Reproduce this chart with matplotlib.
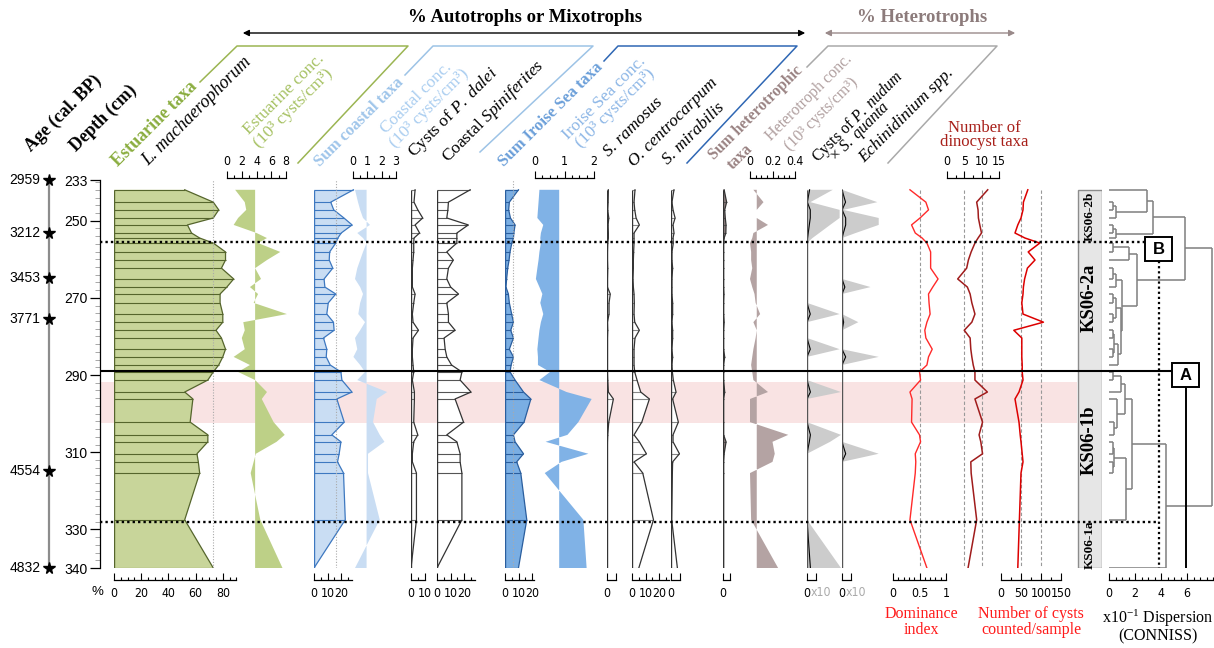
import matplotlib
matplotlib.use('Agg')
import matplotlib.pyplot as plt
from matplotlib import font_manager as fm
from matplotlib.patches import Rectangle
import numpy as np

# ---------------- DATA ----------------
depth = [242.0, 245.2, 247.2, 249.3, 251.1, 253.2, 254.5, 255.8, 258.1, 260.2, 262.3, 265.1,
         267.2, 269.0, 271.3, 274.2, 276.3, 278.4, 280.4, 283.3, 285.3, 287.4, 289.2, 291.3,
         294.4, 296.2, 302.2, 305.5, 307.3, 310.4, 312.5, 315.4, 327.5, 340.0]
l_machaerophorum = [52, 73, 77, 73, 54, 57, 63, 73, 82, 82, 79, 88, 83, 78, 78, 80, 80, 75, 79, 82,
                    80, 77, 73, 69, 52, 58, 56, 69, 69, 61, 62, 63, 52, 73]
estuarine_conc = [1.1, 2.4, 2.6, 1.5, 0.9, 4.0, 5.4, 4.2, 7.2, 5.4, 3.8, 4.6, 3.1, 4.2, 3.6, 8.1, 2.2,
                  2.4, 2.0, 2.4, 0.9, 3.1, 1.5, 3.8, 5.4, 4.7, 6.3, 7.8, 6.7, 3.9, 3.6, 3.2, 4.5, 7.5]
estuarine_mean = 3.8
coastal_sum = [29, 12.3, 14.5, 22, 28, 20, 17.5, 16, 11.5, 11.2, 13.8, 7.4, 8, 16, 10.5, 9.4, 14.3,
               14.8, 7, 9.4, 9, 11.9, 19.8, 20.5, 27.9, 16.8, 22.2, 13.1, 19.8, 18.5, 17.3, 21.7, 23, 0]
coastal_conc = [0.14, 0.35, 0.5, 0.7, 1.19, 0.3, 0.7, 0.95, 0.7, 0.5, 0.3, 0.14, 0.5, 0.7, 0.5, 0.37,
                0.84, 0.5, 0.14, 0.3, 0.03, 0.5, 0.84, 0.3, 2.39, 1.66, 1.4, 1.87, 2.2, 1.05, 1.05,
                1.05, 1.87, 0.14]
coastal_mean = 0.95
p_dalei = [3, 2.2, 5, 8.6, 3, 6.3, 2.2, 2, 2, 1.5, 1, 1, 1, 3, 2, 1, 1.5, 5.5, 1.5, 1, 1, 1.5, 2, 1,
           2.5, 2.5, 2, 5, 2, 1, 1, 4, 4, 0]
coastal_spiniferites = [24.4, 8.4, 8, 7.2, 23, 14.6, 14.6, 14.6, 7.2, 12, 8.4, 7.2, 10, 15.8, 7.2, 8.4,
                        8.4, 13.3, 5.2, 6, 7.2, 10.7, 18.3, 17, 25, 13.3, 19.5, 7.2, 14.6, 17, 17,
                        18.3, 18.3, 0]
iroise_sum = [9.9, 3.2, 2.7, 4, 7.4, 6.5, 6.2, 5, 3.7, 3, 2, 1.2, 0.7, 2.5, 3.2, 4.9, 6.2, 4.2, 6.2,
              3.2, 6.2, 4.5, 3.7, 7.4, 13.6, 19, 14, 6.2, 7.4, 13.6, 8.6, 11.6, 16, 9.9]
iroise_conc = [0.15, 0.12, 0.1, 0.08, 0.28, 0.2, 0.18, 0.2, 0.15, 0.12, 0.08, 0.03, 0.15, 0.25, 0.18,
               0.28, 0.2, 0.15, 0.12, 0.08, 0.1, 0.1, 0.51, 0.15, 1.07, 1.92, 1.47, 1.1, 0.36, 1.81,
               0.9, 0.33, 1.64, 1.75]
iroise_mean = 0.82
s_ramosus = [1.0, 0.8, 0.5, 1.3, 0.8, 1.0, 1.0, 0.5, 0.3, 0.3, 0.5, 0.3, 0.3, 2.4, 1.5, 1.5, 0.3, 0.5,
             0.3, 0.3, 0.3, 0.3, 0.3, 0.5, 1.0, 4.7, 1.3, 0.5, 0.3, 0.2, 0.2, 0.1, 0.0, 0.0]
o_centrocarpum = [2.2, 1.5, 2, 3, 5.4, 1.5, 1.5, 1.5, 1.2, 1, 1, 0.7, 1, 1.5, 1.7, 1.5, 2, 5.4, 2.2,
                  1.5, 1.5, 1.5, 2, 3.7, 6.4, 12.8, 7.2, 1.5, 5.4, 10.6, 1.5, 7.9, 15.8, 5]
s_mirabilis = [2.2, 0.7, 1.5, 3, 1.5, 2.2, 1.5, 1.7, 0.7, 0.7, 1.2, 0.7, 0.7, 0.7, 1.2, 1.2, 0.7, 1.2,
               1.2, 0.7, 1.2, 0.7, 1, 1.7, 3.7, 1.2, 5.4, 1.5, 1.5, 6.2, 1.2, 1, 0.5, 4.7]
hetero_sum = [1, 3.2, 1.5, 2, 2.7, 2.5, 1, 0.5, 0.5, 0.5, 0.5, 0.5, 0.5, 0.8, 0.5, 0.5, 1, 0.5, 0.5,
              0.5, 1.5, 0.5, 0.5, 0.5, 1.5, 0.5, 0.5, 0.5, 2.7, 1, 0.5, 0.5, 0.5, 0.5]
hetero_conc = [0.03, 0.12, 0.06, 0.06, 0.16, 0.03, 0.02, 0.0, 0.01, 0.01, 0.02, 0.0, 0.02, 0.04, 0.05,
               0.09, 0.03, 0.06, 0.05, 0.03, 0.02, 0.01, 0.02, 0.03, 0.16, 0.0, 0.0, 0.34, 0.2, 0.22,
               0.2, 0.0, 0.01, 0.25]
hetero_mean = 0.06
p_nudum_s_quanta = [1.9, 0.25, 2.4, 2.4, 1.7, 0.9, 0.4, 0, 0, 0, 0, 0, 0, 0, 0, 2.4, 0, 0, 0, 2.4, 0,
                    0, 0, 0, 2.5, 0, 0, 2.5, 1.7, 0, 0, 0, 0, 2.5]
echinidinium = [0, 2.6, 0.1, 2.7, 2.7, 1.0, 0, 0, 0, 0, 0, 0, 2.1, 0, 0, 0, 1.2, 0, 0, 0, 2.7, 0, 0, 0,
                0, 0, 0, 0, 0, 2.7, 0, 0, 0, 0]
dominance = [0.32, 0.62, 0.67, 0.51, 0.35, 0.42, 0.55, 0.64, 0.71, 0.71, 0.71, 0.85, 0.75, 0.67, 0.68,
             0.7, 0.64, 0.6, 0.62, 0.74, 0.67, 0.64, 0.5, 0.52, 0.32, 0.36, 0.35, 0.5, 0.52, 0.42,
             0.43, 0.42, 0.32, 0.64]
n_taxa = [11.8, 8.6, 9, 9.1, 9.5, 10, 9, 8.1, 7, 6.2, 5.7, 3.1, 5.9, 6.7, 7.2, 8.1, 7.2, 5, 6.7, 6.9,
          7.2, 7.6, 8.1, 8.1, 11.7, 8.1, 10.3, 9.3, 9.8, 10.3, 6.9, 7, 8.6, 6.1]
n_cysts = [67, 56, 55, 50, 42, 35, 60, 97, 68, 85, 66, 59, 56, 55, 52, 55, 106, 32, 52, 52, 52, 53, 53,
           55, 45, 35, 45, 48, 50, 53, 55, 50, 46, 42]
ages = [2959, 3212, 3453, 3771, 4554, 4832]
age_depths = [239.5, 253.2, 264.8, 275.4, 314.8, 340.0]
depth_ticks = [239.46, 250, 270, 290, 310, 330, 340]
depth_tick_labels = ['233', '250', '270', '290', '310', '330', '340']
zone_names = ['KS06-2b', 'KS06-2a', 'KS06-1b', 'KS06-1a']
zone_label_depths = [248.8, 270.0, 306.8, 334.0]
zone_dotted = [255.4, 328.0]
zone_solid = 288.9
pink_band = (291.8, 302.4)
# CONNISS tree: [height, left, right], leaves = sample index
tree = [7.9,
        [5.85,
         [3.4, [2.95, 0, [0.5, [0.3, 1, 2], 3]], [0.5, [0.3, 4, 5], 6]],
         [2.15, [1.5, [0.3, 7, 8], 9],
          [1.0, [0.5, [0.3, 10, 11], 12],
           [0.9, [0.5, [0.3, 13, 14], [0.3, 15, 16]],
            [0.7, [0.4, [0.3, 17, 18], [0.3, 19, 20]], 21]]]]],
        [4.4,
         [1.75, [1.2, [0.9, [0.3, 22, 23], 24], [0.6, 25, [0.4, 26, 27]]],
          [1.3, [0.4, [0.3, 28, 29], [0.3, 30, 31]], 32]],
         33]]

# ---------------- SETUP ----------------
names = {f.name for f in fm.fontManager.ttflist}
SERIF = 'Liberation Serif' if 'Liberation Serif' in names else 'DejaVu Serif'
SANS = 'Liberation Sans' if 'Liberation Sans' in names else 'DejaVu Sans'
narrow_file = None
for f in fm.fontManager.ttflist:
    nm = f.name
    if (('Narrow' in nm or 'Condensed' in nm or str(f.stretch) in ('condensed', 'semi-condensed'))
            and f.style == 'normal' and f.weight in (400, 'normal', 'regular', 'book')):
        narrow_file = f.fname
        break
if narrow_file is not None:
    TICK_FP = fm.FontProperties(fname=narrow_file, size=8.8)
else:
    TICK_FP = fm.FontProperties(family=SANS, size=8.0)

plt.rcParams['mathtext.fontset'] = 'custom'
plt.rcParams['mathtext.rm'] = SERIF
plt.rcParams['mathtext.it'] = SERIF + ':italic'
plt.rcParams['mathtext.bf'] = SERIF + ':bold'

depth = np.asarray(depth)
W, H = 1214, 648
fig = plt.figure(figsize=(W / 100, H / 100), dpi=100)
Y_TOP, Y_BOT = 180, 568
D_TOP, D_BOT = 239.46, 340.0
PX = 1.36  # px per percent


def px2depth(y):
    return D_TOP + (y - Y_TOP) / (Y_BOT - Y_TOP) * (D_BOT - D_TOP)


def add_panel(x0, scale, xmax, z=2):
    ax = fig.add_axes([x0 / W, 1 - Y_BOT / H, xmax * scale / W, (Y_BOT - Y_TOP) / H], zorder=z)
    ax.set_xlim(0, xmax)
    ax.set_ylim(D_BOT, D_TOP)
    ax.patch.set_alpha(0)
    for s in ax.spines.values():
        s.set_visible(False)
    ax.set_xticks([])
    ax.set_yticks([])
    return ax


def bottom_axis(ax, bound, major, labels, minor=()):
    sp = ax.spines['bottom']
    sp.set_visible(True)
    sp.set_position(('outward', 8.6))
    sp.set_bounds(0, bound)
    sp.set_linewidth(0.9)
    ax.set_xticks(major)
    ax.set_xticklabels(labels, fontproperties=TICK_FP)
    ax.set_xticks(list(minor), minor=True)
    ax.tick_params(axis='x', which='major', direction='in', length=5, width=0.8, pad=5,
                   bottom=True, top=False)
    ax.tick_params(axis='x', which='minor', direction='in', length=2.5, width=0.8,
                   bottom=True, top=False)


def top_axis(ax, bound, major, labels, minor=()):
    sp = ax.spines['top']
    sp.set_visible(True)
    sp.set_position(('outward', 1.5))
    sp.set_bounds(0, bound)
    sp.set_linewidth(0.9)
    ax.set_xticks(major)
    ax.set_xticklabels(labels, fontproperties=TICK_FP)
    ax.set_xticks(list(minor), minor=True)
    ax.tick_params(axis='x', which='major', direction='out', length=5, width=0.8, pad=2,
                   top=True, bottom=False, labeltop=True, labelbottom=False)
    ax.tick_params(axis='x', which='minor', direction='out', length=2.5, width=0.8,
                   top=True, bottom=False)


def pct_panel(x0, vals, xmax, bound, fill, edge, hline, major, labels, minor=(), ref=None):
    ax = add_panel(x0, PX, xmax)
    v = np.asarray(vals, dtype=float)
    ax.fill_betweenx(depth, 0, v, facecolor=fill, edgecolor='none')
    ax.hlines(depth, 0, v, colors=hline, lw=0.8)
    ax.plot(v, depth, color=edge, lw=0.9)
    ax.vlines(0, depth.min(), depth.max(), colors=edge, lw=1.0)
    if ref is not None:
        ax.axvline(ref, color='#aaaaaa', lw=0.8, ls=(0, (1, 1.5)))
    bottom_axis(ax, bound, major, labels, minor)
    return ax


def conc_panel(x0, scale, vals, mean, xmax, bound, color, major, labels, minor):
    ax = add_panel(x0, scale, xmax)
    ax.fill_betweenx(depth, mean, np.asarray(vals, dtype=float), facecolor=color, edgecolor='none')
    top_axis(ax, bound, major, labels, minor)
    return ax


def exag_panel(x0, vals, xmax):
    ax = add_panel(x0, PX, xmax)
    v = np.asarray(vals, dtype=float)
    ax.fill_betweenx(depth, 0, v * 10, facecolor='#cccccc', edgecolor='none')
    ax.plot(v, depth, color='k', lw=0.8)
    ax.vlines(0, depth.min(), depth.max(), colors='#555555', lw=1.0)
    bottom_axis(ax, 6.5, [0, 6.5], ['0', ''])
    fig.text((x0 + 3.5) / W, 1 - 592 / H, 'x10', color='#aaaaaa', fontproperties=TICK_FP,
             ha='left', va='center')
    return ax


# background for pink band
ax_bg = fig.add_axes([0, 1 - Y_BOT / H, 1, (Y_BOT - Y_TOP) / H], zorder=0)
ax_bg.set_xlim(0, W)
ax_bg.set_ylim(D_BOT, D_TOP)
ax_bg.axis('off')
ax_bg.axhspan(pink_band[0], pink_band[1], xmin=100 / W, xmax=1077 / W, color='#f9e3e3', lw=0)

# ---------------- PANELS ----------------
pct_panel(114, l_machaerophorum, 90, 90, '#c8d59a', '#55652c', '#55652c',
          [0, 20, 40, 60, 80], ['0', '20', '40', '60', '80'], np.arange(0, 91, 5), ref=73)
conc_panel(227, 7.4, estuarine_conc, estuarine_mean, 8.6, 8, '#bdd087',
           [0, 2, 4, 6, 8], ['0', '2', '4', '6', '8'], np.arange(0, 9, 1))
pct_panel(314, coastal_sum, 30, 28, '#c9ddf3', '#3d78c0', '#3d78c0',
          [0, 10, 20], ['0', '10', '20'], [5, 15, 25], ref=16)
conc_panel(353, 14.3, coastal_conc, coastal_mean, 3.1, 3, '#c9ddf3',
           [0, 1, 2, 3], ['0', '1', '2', '3'], np.arange(0, 3.01, 0.5))
pct_panel(411, p_dalei, 12, 10, 'white', '#333333', '#777777', [0, 10], ['0', '10'], [5])
pct_panel(437, coastal_spiniferites, 30, 28, 'white', '#333333', '#555555',
          [0, 10, 20], ['0', '10', '20'], [5, 15, 25])
pct_panel(505, iroise_sum, 22, 21, '#7aaee3', '#2a5e9e', '#2a5e9e',
          [0, 10, 20], ['0', '10', '20'], [5, 15], ref=6)
conc_panel(535, 29.5, iroise_conc, iroise_mean, 2.1, 2, '#80b2e6',
           [0, 1, 2], ['0', '1', '2'], np.arange(0, 2.01, 0.25))
pct_panel(607, s_ramosus, 7, 6.5, 'white', '#333333', '#888888', [0, 6.5], ['0', ''])
pct_panel(632, o_centrocarpum, 28, 27, 'white', '#333333', '#888888',
          [0, 10, 20], ['0', '10', '20'], [5, 15, 25])
pct_panel(671, s_mirabilis, 7.5, 6.5, 'white', '#333333', '#888888', [0, 6.5], ['0', ''])
pct_panel(723, hetero_sum, 5, 6, '#9a8888', '#333333', '#555555', [0, 6], ['0', ''])
conc_panel(750, 112.5, hetero_conc, hetero_mean, 0.42, 0.4, '#b4a3a3',
           [0, 0.2, 0.4], ['0', '0.2', '0.4'], np.arange(0, 0.41, 0.05))
exag_panel(807, p_nudum_s_quanta, 28)
exag_panel(842, echinidinium, 28)

# dominance index
ax = add_panel(893, 53, 1.0)
ax.vlines(0.5, depth.min(), depth.max(), colors='#999999', lw=0.8, linestyles=(0, (3, 2)))
ax.plot(dominance, depth, color='#ff2a2a', lw=1.0)
bottom_axis(ax, 1.0, [0, 0.5, 1], ['0', '0.5', '1'], np.arange(0, 1.01, 0.1))

# number of dinocyst taxa
ax = add_panel(947, 3.45, 15.5)
ax.vlines([5, 10], depth.min(), depth.max(), colors='#999999', lw=0.8, linestyles=(0, (3, 2)))
ax.plot(n_taxa, depth, color='#a01c1c', lw=1.1)
top_axis(ax, 15, [0, 5, 10, 15], ['0', '5', '10', '15'], np.arange(0, 15.1, 2.5))

# number of cysts counted
ax = add_panel(1001, 0.4, 152)
ax.vlines([50, 100], depth.min(), depth.max(), colors='#999999', lw=0.8, linestyles=(0, (3, 2)))
ax.plot(n_cysts, depth, color='#dd0000', lw=1.1)
bottom_axis(ax, 150, [0, 50, 100, 150], ['0', '50', '100', '150'], np.arange(0, 151, 25))

# zone column
ax = add_panel(1077, 25, 1.0)
ax.add_patch(Rectangle((0.02, depth.min()), 0.96, depth.max() - depth.min(),
                       facecolor='#e6e6e6', edgecolor='#8c8c8c', lw=1.0))
for nm, d in zip(zone_names, zone_label_depths):
    fs = 13.5 if nm in ('KS06-2a', 'KS06-1b') else 9.5
    ax.text(0.5, d, nm, rotation=90, ha='center', va='center', family=SERIF,
            fontweight='bold', fontsize=fs)

# dendrogram
ax_den = add_panel(1109, 13, 8.1)
DC = '#7f7f7f'


def draw_tree(node):
    if isinstance(node, int):
        return depth[node], 0.0
    h, a, b = node
    ya, xa = draw_tree(a)
    yb, xb = draw_tree(b)
    ax_den.hlines([ya, yb], [xa, xb], h, colors=DC, lw=1.1)
    ax_den.vlines(h, ya, yb, colors=DC, lw=1.1)
    return (ya + yb) / 2, h


draw_tree(tree)
ax_den.vlines(3.85, px2depth(261), D_BOT, colors='k', lw=1.6, linestyles=(0, (1, 1.3)))
ax_den.vlines(5.9, px2depth(387), D_BOT, colors='k', lw=1.4)
bottom_axis(ax_den, 8, [0, 2, 4, 6], ['0', '2', '4', '6'], np.arange(0, 8.01, 0.5))

# depth axis
ax_d = fig.add_axes([100 / W, 1 - Y_BOT / H, 0.0005, (Y_BOT - Y_TOP) / H], zorder=2)
ax_d.set_ylim(D_BOT, D_TOP)
ax_d.patch.set_alpha(0)
for k in ('top', 'right', 'bottom'):
    ax_d.spines[k].set_visible(False)
ax_d.spines['left'].set_linewidth(0.9)
ax_d.set_xticks([])
ax_d.set_yticks(depth_ticks)
ax_d.set_yticklabels(depth_tick_labels, fontfamily=SANS, fontsize=10)
ax_d.set_yticks(np.arange(240, 339, 2), minor=True)
ax_d.tick_params(axis='y', which='major', direction='out', length=7, width=0.9, pad=2)
ax_d.tick_params(axis='y', which='minor', direction='out', length=3.5, width=0.6, color='#999999')

# age axis
ax_a = fig.add_axes([39 / W, 1 - Y_BOT / H, 20 / W, (Y_BOT - Y_TOP) / H], zorder=2)
ax_a.set_xlim(-1, 1)
ax_a.set_ylim(D_BOT, D_TOP)
ax_a.axis('off')
ax_a.vlines(0, D_TOP, D_BOT, colors='#8c8c8c', lw=1.6)
ax_a.plot(np.zeros(len(ages)), age_depths, ls='none', marker='*', color='k', ms=8.5, clip_on=False)
for a_, d_ in zip(ages, age_depths):
    ax_a.text(-0.85, d_, str(a_), ha='right', va='center', family=SANS, fontsize=10, clip_on=False)

# overlay zone boundaries
ax_ov = fig.add_axes([0, 1 - Y_BOT / H, 1, (Y_BOT - Y_TOP) / H], zorder=5)
ax_ov.set_xlim(0, W)
ax_ov.set_ylim(D_BOT, D_TOP)
ax_ov.axis('off')
ax_ov.patch.set_alpha(0)
ax_ov.hlines(zone_dotted[0], 100, 1145, colors='k', lw=1.7, linestyles=(0, (1, 1.3)))
ax_ov.hlines(zone_dotted[1], 100, 1159, colors='k', lw=1.7, linestyles=(0, (1, 1.3)))
ax_ov.hlines(zone_solid, 100, 1172, colors='k', lw=1.5)

# ---------------- DECORATIONS (figure px) ----------------
ax_f = fig.add_axes([0, 0, 1, 1], zorder=10)
ax_f.set_xlim(0, W)
ax_f.set_ylim(H, 0)
ax_f.axis('off')
ax_f.patch.set_alpha(0)

brackets = [([200, 237, 408, 298], [82, 46, 46, 163], '#9bb552'),
            ([405, 433, 593, 480], [75, 46, 46, 152], '#9dc3e6'),
            ([604, 618, 797, 687], [61, 46, 46, 163], '#2f67b4'),
            ([807, 828, 997, 888], [67, 46, 46, 163], '#a9a9a9')]
for bx, by, c in brackets:
    ax_f.plot(bx, by, color=c, lw=1.1)

ax_f.annotate('', xy=(240, 33), xytext=(808, 33),
              arrowprops=dict(arrowstyle='<|-|>', color='k', lw=1.0, mutation_scale=9))
ax_f.annotate('', xy=(822, 33), xytext=(1018, 33),
              arrowprops=dict(arrowstyle='<|-|>', color='#9a8a8a', lw=1.0, mutation_scale=9))
ax_f.text(525, 18, '% Autotrophs or Mixotrophs', ha='center', va='center', family=SERIF,
          fontweight='bold', fontsize=13.5)
ax_f.text(922, 18, '% Heterotrophs', ha='center', va='center', family=SERIF,
          fontweight='bold', fontsize=13.5, color='#8c7b7b')

for (bx, by, lab) in [(1145, 237, 'B'), (1172, 363, 'A')]:
    ax_f.add_patch(Rectangle((bx, by), 27, 24, facecolor='white', edgecolor='k', lw=1.4))
    ax_f.text(bx + 13.5, by + 12.5, lab, ha='center', va='center', family=SANS,
              fontweight='bold', fontsize=12)

headers = [
    ('Age (cal. BP)', 31, 152, dict(fontweight='bold', fontsize=13)),
    ('Depth (cm)', 76, 152, dict(fontweight='bold', fontsize=13)),
    ('Estuarine taxa', 118, 167, dict(fontweight='bold', color='#8aad3f', fontsize=13)),
    ('L. machaerophorum', 148, 166, dict(style='italic', fontsize=13)),
    ('Estuarine conc.', 249, 135, dict(color='#a6c162')),
    ('(10³ cysts/cm³)', 259, 148, dict(color='#a6c162')),
    ('Sum coastal taxa', 320, 167, dict(fontweight='bold', color='#9fc5ea', fontsize=11.8)),
    ('Coastal conc.', 386, 134, dict(color='#a9cdf0')),
    ('(10³ cysts/cm³)', 395, 148, dict(color='#a9cdf0')),
    (r'Cysts of $\mathit{P.\ dalei}$', 414, 158, {}),
    (r'Coastal $\mathit{Spiniferites}$', 448, 163, {}),
    ('Sum Iroise Sea taxa', 504, 167, dict(fontweight='bold', color='#6b9fd9', fontsize=12)),
    ('Iroise Sea conc.', 568, 140, dict(color='#8cb6e6')),
    ('(10³ cysts/cm³)', 581, 148, dict(color='#8cb6e6')),
    ('S. ramosus', 609, 157, dict(style='italic')),
    ('O. centrocarpum', 634, 167, dict(style='italic')),
    ('S. mirabilis', 668, 165, dict(style='italic')),
    ('Sum heterotrophic', 714, 160, dict(fontweight='bold', color='#9a8383', fontsize=11.3)),
    ('taxa', 733, 170, dict(fontweight='bold', color='#9a8383', fontsize=11.3)),
    ('Heterotroph conc.', 771, 141, dict(color='#b09f9f', fontsize=11.5)),
    ('(10³ cysts/cm³)', 790, 151, dict(color='#b09f9f', fontsize=11.5)),
    (r'Cysts of $\mathit{P.\ nudum}$', 818, 163, dict(fontsize=11.5)),
    (r'× $\mathit{S.\ quanta}$', 836, 162, dict(fontsize=11.5)),
    ('Echinidinium spp.', 864, 163, dict(style='italic')),
]
for s, x, y, kw in headers:
    kw = dict(kw)
    fs = kw.pop('fontsize', 12.5)
    ax_f.text(x, y, s, rotation=45, rotation_mode='anchor', ha='left', va='baseline',
              family=SERIF, fontsize=fs, **kw)

ax_f.text(984, 135, 'Number of\ndinocyst taxa', ha='center', va='center', family=SERIF,
          fontsize=12, color='#a8201a', linespacing=0.9)
ax_f.text(97, 592, '%', ha='center', va='center', family=SANS, fontsize=9.5)
ax_f.text(921, 622, 'Dominance\nindex', ha='center', va='center', family=SERIF,
          fontsize=11.5, color='#ff1a1a', linespacing=0.95)
ax_f.text(1031, 622, 'Number of cysts\ncounted/sample', ha='center', va='center', family=SERIF,
          fontsize=11.5, color='#ff1a1a', linespacing=0.95)
ax_f.text(1158, 626, 'x10$^{-1}$ Dispersion\n(CONNISS)', ha='center', va='center', family=SERIF,
          fontsize=11.5, color='k', linespacing=1.0)

fig.savefig('out.png', dpi=100)
